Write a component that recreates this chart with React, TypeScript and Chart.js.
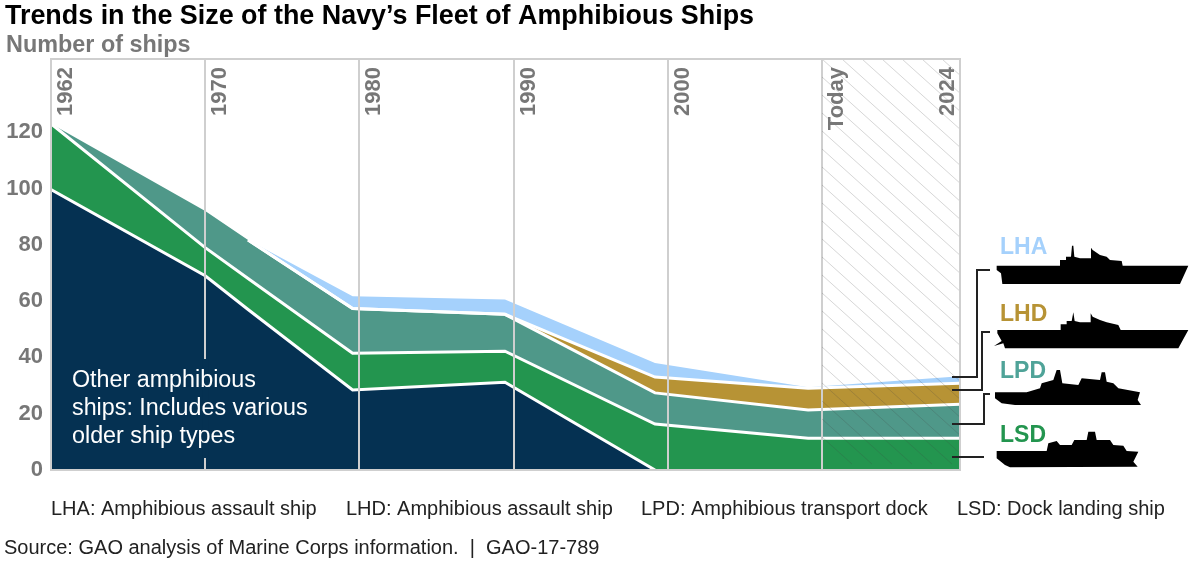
import React, { useEffect, useRef } from "react";
import { Chart, registerables } from "chart.js";

Chart.register(...registerables);

// Horizontal position, in equal "era" steps between the axis labels
const positions = [0, 1, 1.278, 1.956, 2.944, 3.917, 4.91, 5.895];
const otherShips = [99.6, 69, 57, 28.4, 31.2, 0, 0, 0];
const lsdShips = [23.4, 10, 11, 13.1, 11, 16.3, 11.3, 11.3];
const lpdShips = [0, 13, 13.7, 15.9, 13.1, 11.1, 10, 12.1];
const lhdShips = [0, 0, 0, 0, 0, 5.6, 7.7, 7.4];
const lhaShips = [0, 0, 0, 4.3, 5.3, 5, 0.4, 2.5];

const yearLabels = ["1962", "1970", "1980", "1990", "2000", "Today", "2024"];
const yearPositions = [0, 1, 2, 3, 4, 5, 5.895];
const yTickValues = [0, 20, 40, 60, 80, 100, 120];
const legendTerms = [
  "LHA: Amphibious assault ship",
  "LHD: Amphibious assault ship",
  "LPD: Amphibious transport dock",
  "LSD: Dock landing ship",
];
const noteLines = ["Other amphibious", "ships: Includes various", "older ship types"];
const titleText = "Trends in the Size of the Navy\u2019s Fleet of Amphibious Ships";
const subtitleText = "Number of ships";
const sourceText = "Source: GAO analysis of Marine Corps information.  |  GAO-17-789";

const FONT = '"Liberation Sans", Arial, sans-serif';
const GREY = "#777777";
const GRID = "#cfcfcf";
const NAVY = "#053152";
const GREEN = "#23954f";
const TEAL = "#4f9889";
const GOLD = "#b79335";
const SKY = "#a5d1fc";

const layers = [otherShips, lsdShips, lpdShips, lhdShips, lhaShips];
const layerColors = [NAVY, GREEN, TEAL, GOLD, SKY];

// Ship silhouettes, traced as decoration: [originX, originY, points]
type Pt = [number, number];
const ships: [number, number, Pt[]][] = [
  [990, 235, [[20,92],[210,92],[210,75],[228,75],[228,65],[243,65],[246,32],[250,32],[253,65],[270,70],[303,70],[303,38],[308,45],[330,60],[350,65],[360,75],[395,78],[398,92],[595,92],[570,147],[37,147],[33,115],[20,105]]],
  [990, 235, [[22,285],[212,285],[212,268],[230,268],[230,258],[245,258],[250,232],[254,258],[270,262],[302,262],[302,235],[308,245],[330,255],[350,262],[385,270],[392,285],[595,285],[565,340],[45,340],[40,325],[12,333],[35,318],[22,295]]],
  [985, 355, [[30,112],[125,112],[165,100],[170,85],[205,75],[215,45],[225,45],[232,85],[280,90],[290,70],[345,75],[350,52],[360,52],[365,80],[385,85],[400,100],[465,112],[458,135],[468,150],[90,150],[50,145],[30,130]]],
  [985, 355, [[35,288],[185,288],[190,265],[215,258],[225,270],[260,270],[268,255],[305,255],[310,230],[330,230],[335,255],[375,255],[385,270],[415,272],[425,288],[460,290],[445,320],[458,335],[75,337],[60,330],[35,310]]],
];

const shipLabels: [string, string, number, number][] = [
  ["LHA", SKY, 1000, 254],
  ["LHD", GOLD, 1000, 321],
  ["LPD", "#4fa398", 1000, 378],
  ["LSD", GREEN, 1000, 442],
];

const leaders: Pt[][] = [
  [[952, 377], [977, 377], [977, 270], [990, 270]],
  [[952, 390], [982, 390], [982, 332], [990, 332]],
  [[952, 424], [984, 424], [984, 394], [990, 394]],
  [[952, 457], [984, 457]],
];

function hasBelow(layer: number, i: number) {
  for (let k = 0; k <= layer; k++) if (layers[k][i] > 0) return true;
  return false;
}
function hasAbove(layer: number, i: number) {
  for (let k = layer + 1; k < layers.length; k++) if (layers[k][i] > 0) return true;
  return false;
}
// A boundary's white rule shows only where there is a layer on each side of it
function segmentShown(layer: number, i: number) {
  return (
    (hasBelow(layer, i) || hasBelow(layer, i + 1)) && (hasAbove(layer, i) || hasAbove(layer, i + 1))
  );
}
function boundaryPoints(layer: number) {
  return positions.map((x, i) => {
    let top = 0;
    for (let k = 0; k <= layer; k++) top += layers[k][i];
    const shown =
      (i < positions.length - 1 && segmentShown(layer, i)) || (i > 0 && segmentShown(layer, i - 1));
    return { x, y: shown ? top : null };
  });
}

const overlayPlugin = {
  id: "overlay",
  afterDraw(chart: any) {
    const { ctx, chartArea: a, scales } = chart;
    const x = scales.x;
    ctx.save();

    // Hatched forecast region
    const hx = x.getPixelForValue(5);
    ctx.save();
    ctx.beginPath();
    ctx.rect(hx, a.top, a.right - hx, a.bottom - a.top);
    ctx.clip();
    ctx.strokeStyle = "rgba(70,70,70,0.22)";
    ctx.lineWidth = 1;
    for (let s = hx - 420; s < a.right + 20; s += 20) {
      ctx.beginPath();
      ctx.moveTo(s, a.top);
      ctx.lineTo(s + 450, a.top + 450 * 0.9);
      ctx.stroke();
    }
    ctx.restore();

    // Frame
    ctx.strokeStyle = GRID;
    ctx.lineWidth = 2;
    ctx.strokeRect(a.left, a.top, a.right - a.left, a.bottom - a.top);

    // Note sits on a navy patch that interrupts the 1970 line
    const gx = x.getPixelForValue(1);
    ctx.fillStyle = NAVY;
    ctx.fillRect(gx - 3, 359, 6, 99);
    ctx.fillStyle = "#ffffff";
    ctx.font = `23.3px ${FONT}`;
    ctx.textAlign = "left";
    ctx.textBaseline = "alphabetic";
    noteLines.forEach((t, i) => ctx.fillText(t, 72, 387 + i * 28));

    // Year labels, rotated inside the plot
    ctx.fillStyle = GREY;
    ctx.font = `bold 22px ${FONT}`;
    yearLabels.forEach((t, i) => {
      const last = i === yearLabels.length - 1;
      const px = x.getPixelForValue(yearPositions[i]) + (last ? -12 : 15);
      ctx.save();
      ctx.translate(px, 67);
      ctx.rotate(-Math.PI / 2);
      ctx.textAlign = "right";
      ctx.textBaseline = "middle";
      ctx.fillText(t, 0, 0);
      ctx.restore();
    });

    // Title block
    ctx.textAlign = "left";
    ctx.textBaseline = "alphabetic";
    ctx.fillStyle = "#000000";
    ctx.font = `bold 26.9px ${FONT}`;
    ctx.fillText(titleText, 5, 24);
    ctx.fillStyle = GREY;
    ctx.font = `bold 23.4px ${FONT}`;
    ctx.fillText(subtitleText, 6, 52);

    // Footer
    ctx.fillStyle = "#222222";
    ctx.font = `20px ${FONT}`;
    [51, 346, 641, 957].forEach((lx, i) => ctx.fillText(legendTerms[i], lx, 515));
    ctx.font = `20px ${FONT}`;
    ctx.fillText(sourceText, 4, 554);

    // Ship labels, leaders and silhouettes
    ctx.font = `bold 23px ${FONT}`;
    shipLabels.forEach(([t, c, lx, ly]) => {
      ctx.fillStyle = c;
      ctx.fillText(t, lx, ly);
    });
    ctx.strokeStyle = "#222222";
    ctx.lineWidth = 2;
    leaders.forEach((pts) => {
      ctx.beginPath();
      pts.forEach(([px, py], i) => (i ? ctx.lineTo(px, py) : ctx.moveTo(px, py)));
      ctx.stroke();
    });
    ctx.fillStyle = "#000000";
    ships.forEach(([ox, oy, pts]) => {
      ctx.beginPath();
      pts.forEach(([px, py], i) => {
        const sx = ox + px / 3;
        const sy = oy + py / 3;
        if (i) ctx.lineTo(sx, sy);
        else ctx.moveTo(sx, sy);
      });
      ctx.closePath();
      ctx.fill();
    });
    ctx.restore();
  },
};

export default function App() {
  const ref = useRef<HTMLCanvasElement>(null);
  useEffect(() => {
    const areaSets = layers.map((values, li) => ({
      data: values.map((v, i) => ({ x: positions[i], y: v })),
      stack: "areas",
      order: 2,
      backgroundColor: layerColors[li],
      borderWidth: 0,
      pointRadius: 0,
      tension: 0,
      fill: li === 0 ? "origin" : "-1",
    }));
    const ruleSets = layers.slice(0, -1).map((_, li) => ({
      data: boundaryPoints(li),
      stack: `rule${li}`,
      order: 1,
      borderColor: "#ffffff",
      borderWidth: 3,
      borderJoinStyle: "miter",
      pointRadius: 0,
      tension: 0,
      fill: false,
    }));
    const chart = new Chart(ref.current!, {
      type: "line",
      data: { datasets: [...areaSets, ...ruleSets] },
      options: {
        responsive: false,
        animation: false,
        layout: { padding: { top: 59, right: 240, left: 0, bottom: 0 } },
        plugins: { legend: { display: false }, tooltip: { enabled: false } },
        scales: {
          x: {
            type: "linear",
            min: 0,
            max: 5.895,
            afterBuildTicks: (s: any) => {
              s.ticks = yearPositions.map((value) => ({ value }));
            },
            afterFit: (s: any) => {
              s.height = 94;
            },
            grid: { color: GRID, lineWidth: 2, z: 1, drawTicks: false },
            border: { display: false },
            ticks: { display: false },
          },
          y: {
            type: "linear",
            stacked: true,
            min: 0,
            max: 146,
            afterBuildTicks: (s: any) => {
              s.ticks = yTickValues.map((value) => ({ value }));
            },
            afterFit: (s: any) => {
              s.width = 51;
            },
            grid: { display: false },
            border: { display: false },
            ticks: {
              color: GREY,
              padding: 0,
              font: { family: FONT, size: 22, weight: "bold" },
            },
          },
        },
      },
      plugins: [overlayPlugin],
    } as any);
    return () => chart.destroy();
  }, []);
  return (
    <div style={{ position: "absolute", left: 0, top: 0, width: 1200, height: 564, background: "#fff" }}>
      <canvas ref={ref} width={1200} height={564} style={{ display: "block" }} />
    </div>
  );
}
